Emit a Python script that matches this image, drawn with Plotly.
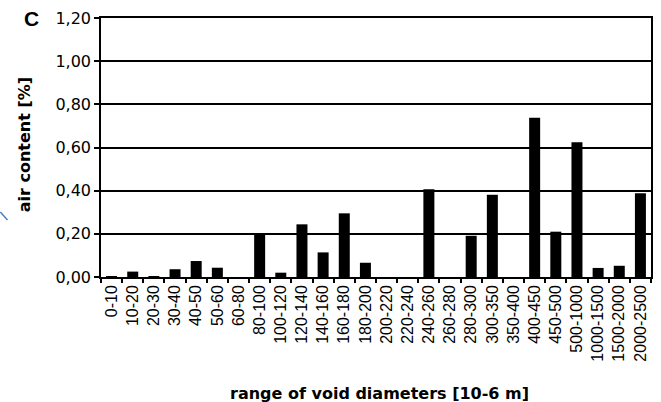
import plotly.graph_objects as go

# Void diameter classes (10-6 m) and measured air content per class (%)
ranges = ["0-10", "10-20", "20-30", "30-40", "40-50", "50-60", "60-80", "80-100",
          "100-120", "120-140", "140-160", "160-180", "180-200", "200-220", "220-240",
          "240-260", "260-280", "280-300", "300-350", "350-400", "400-450", "450-500",
          "500-1000", "1000-1500", "1500-2000", "2000-2500"]
air_content = [0.003, 0.025, 0.003, 0.036, 0.074, 0.043, 0.0, 0.198,
               0.020, 0.244, 0.114, 0.295, 0.066, 0.0, 0.0,
               0.406, 0.0, 0.191, 0.381, 0.0, 0.738, 0.210,
               0.624, 0.042, 0.052, 0.388]

y_ticks = [0.0, 0.2, 0.4, 0.6, 0.8, 1.0, 1.2]
y_tick_text = ["0,00", "0,20", "0,40", "0,60", "0,80", "1,00", "1,20"]

fig = go.Figure(go.Bar(x=ranges, y=air_content, marker=dict(color="black", line=dict(width=0))))

fig.update_layout(
    width=661, height=402,
    margin=dict(l=101, r=8, t=18, b=125),
    paper_bgcolor="white", plot_bgcolor="white",
    bargap=0.48,
    showlegend=False,
    font=dict(family="DejaVu Sans", color="black"),
    xaxis=dict(
        type="category", tickson="boundaries", ticks="outside", ticklen=4,
        tickcolor="black", tickwidth=1.5,
        tickangle=-90, tickfont=dict(family="Liberation Sans", size=16),
        showline=True, linecolor="black", linewidth=1.5, mirror=True,
        showgrid=False,
    ),
    yaxis=dict(
        range=[0, 1.2], tickvals=y_ticks, ticktext=y_tick_text,
        ticks="outside", ticklen=5, tickcolor="black", tickwidth=1.5,
        tickfont=dict(family="DejaVu Sans", size=16),
        showline=True, linecolor="black", linewidth=1.5, mirror=True,
        showgrid=True, gridcolor="black", gridwidth=1.5,
        zeroline=False,
    ),
)

# Axis titles
fig.add_annotation(text="<b>range of void diameters [10-6 m]</b>", xref="paper", yref="paper",
                   x=0.506, y=-0.450, xanchor="center", yanchor="middle", showarrow=False,
                   font=dict(family="DejaVu Sans", size=16, color="black"))
fig.add_annotation(text="<b>air content [%]</b>", xref="paper", yref="paper",
                   x=-0.1375, y=0.51, xanchor="center", yanchor="middle", showarrow=False,
                   textangle=-90, font=dict(family="DejaVu Sans", size=16, color="black"))

# Panel letter
fig.add_annotation(text="<b>C</b>", xref="paper", yref="paper", x=-0.127, y=1.0,
                   xanchor="center", yanchor="middle", showarrow=False,
                   font=dict(family="Liberation Sans", size=21, color="black"))

# Stray blue stroke at the left edge
fig.add_shape(type="line", xref="paper", yref="paper",
              x0=-0.183, y0=0.251, x1=-0.170, y1=0.220,
              line=dict(color="#4a7fc0", width=1.5))

fig.write_html("out.html")
